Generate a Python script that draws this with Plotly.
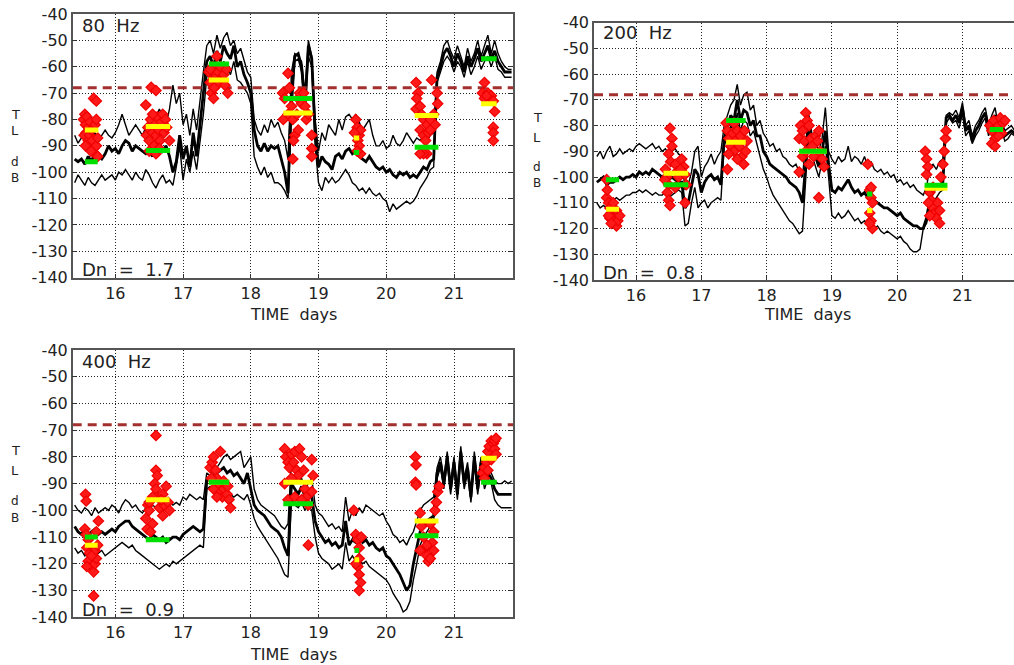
import plotly.graph_objects as go

# ---------------- data ----------------
TIME = [round(15.40 + 0.05 * i, 2) for i in range(130)]  # 15.40 .. 21.85 days

# 80 Hz : upper / median / lower TL curves (dB)
up80 = [-86, -89, -87, -84, -86, -87, -85, -88, -86, -84,
        -86, -87, -85, -82, -78, -82, -86, -84, -82, -84,
        -86, -83, -80, -82, -79, -76, -79, -82, -76, -67,
        -74, -70, -82, -78, -86, -76, -84, -72, -62, -52,
        -50, -55, -48, -53, -49, -47, -52, -50, -55, -53,
        -58, -62, -64, -80, -84, -86, -82, -85, -80, -83,
        -81, -85, -88, -95, -62, -55, -56, -58, -70, -50,
        -56, -80, -92, -85, -88, -82, -84, -86, -80, -84,
        -79, -78, -80, -78, -81, -84, -82, -80, -86, -90,
        -90, -88, -91, -90, -86, -89, -90, -88, -85, -87,
        -89, -87, -88, -86, -88, -86, -85, -62, -58, -52,
        -50, -54, -57, -52, -56, -60, -53, -58, -55, -50,
        -56, -52, -48, -55, -50, -55, -58, -60, -61, -61]
mid80 = [-95, -96, -95, -97, -94, -96, -92, -94, -95, -93,
         -90, -92, -91, -93, -90, -88, -89, -92, -90, -91,
         -92, -93, -92, -94, -89, -90, -92, -90, -94, -100,
         -96, -86, -95, -90, -98, -85, -94, -82, -70, -58,
         -56, -60, -54, -58, -52, -55, -57, -52, -60, -58,
         -63, -66, -70, -84, -90, -92, -89, -92, -90, -91,
         -90, -95, -100, -108, -70, -56, -55, -60, -75, -52,
         -57, -85, -98, -94, -96, -97, -99, -94, -93, -95,
         -92, -91, -93, -92, -94, -95, -96, -94, -96, -98,
         -99, -98, -100, -99, -101, -102, -100, -101, -100, -102,
         -101, -102, -100, -98, -99, -96, -95, -64, -60, -55,
         -53, -56, -60, -55, -58, -62, -56, -60, -57, -53,
         -58, -55, -52, -57, -54, -58, -60, -62, -62, -62]
lo80 = [-104, -101, -103, -105, -102, -104, -105, -103, -101, -103,
        -102, -101, -103, -100, -101, -99, -101, -103, -100, -102,
        -103, -99, -101, -104, -106, -103, -101, -104, -103, -105,
        -98, -90, -103, -95, -100, -92, -99, -88, -78, -64,
        -60, -66, -58, -62, -58, -60, -63, -58, -65, -66,
        -68, -70, -74, -94, -98, -101, -98, -102, -100, -104,
        -104, -105, -107, -110, -80, -58, -57, -62, -78, -56,
        -60, -90, -104, -107, -102, -104, -102, -104, -103, -101,
        -99, -101, -104, -105, -107, -106, -108, -106, -108, -109,
        -108, -110, -111, -115, -112, -114, -113, -112, -111, -112,
        -111, -109, -106, -104, -102, -99, -98, -66, -62, -58,
        -56, -58, -62, -58, -60, -64, -58, -63, -60, -56,
        -61, -58, -56, -60, -56, -61, -62, -64, -64, -64]

# 200 Hz
up200 = [-92, -90, -93, -90, -88, -92, -91, -89, -91, -90,
         -89, -90, -88, -87, -88, -89, -88, -87, -89, -88,
         -90, -89, -91, -90, -89, -91, -92, -105, -103, -98,
         -90, -88, -100, -96, -94, -91, -95, -92, -90, -80,
         -76, -72, -70, -64, -72, -68, -67, -74, -72, -80,
         -78, -83, -85, -88, -87, -90, -89, -92, -93, -95,
         -96, -95, -98, -100, -86, -76, -84, -86, -90, -85,
         -73, -90, -93, -95, -92, -94, -93, -88, -94, -92,
         -93, -95, -92, -96, -94, -97, -98, -97, -99, -98,
         -100, -99, -102, -101, -103, -102, -104, -103, -105, -106,
         -107, -104, -96, -95, -97, -94, -93, -76, -75, -76,
         -74, -77, -71, -80, -78, -84, -80, -78, -75, -73,
         -80, -76, -73, -80, -78, -82, -81, -80, -82, -82]
mid200 = [-102, -101, -100, -103, -102, -102, -101, -100, -101, -100,
          -100, -99, -100, -98, -99, -98, -99, -97, -98, -99,
          -100, -99, -101, -100, -101, -102, -102, -112, -110, -103,
          -97, -99, -106, -102, -100, -99, -101, -100, -103, -85,
          -80, -76, -78, -70, -78, -74, -75, -80, -78, -84,
          -84, -90, -92, -95, -96, -97, -98, -99, -100, -102,
          -103, -104, -106, -110, -95, -78, -88, -92, -96, -90,
          -82, -95, -105, -106, -104, -105, -103, -101, -104, -106,
          -105, -107, -106, -108, -107, -109, -110, -111, -112, -112,
          -113, -114, -115, -114, -116, -117, -118, -119, -119, -120,
          -120, -116, -109, -106, -104, -103, -102, -77, -76, -78,
          -76, -79, -73, -82, -80, -86, -82, -80, -77, -75,
          -82, -78, -76, -82, -80, -84, -83, -82, -83, -84]
lo200 = [-110, -112, -111, -112, -110, -109, -108, -109, -108, -107,
         -107, -106, -106, -105, -106, -105, -106, -107, -106, -107,
         -107, -106, -108, -107, -106, -105, -106, -119, -118, -110,
         -104, -112, -110, -109, -112, -110, -109, -108, -109, -88,
         -84, -80, -82, -75, -82, -78, -79, -84, -82, -87,
         -92, -97, -100, -104, -107, -109, -111, -113, -115, -117,
         -118, -120, -122, -121, -100, -80, -92, -96, -100, -94,
         -88, -100, -115, -116, -114, -116, -115, -113, -115, -117,
         -116, -118, -117, -119, -118, -120, -119, -121, -122, -121,
         -122, -123, -124, -123, -125, -126, -128, -129, -129, -128,
         -120, -118, -113, -110, -108, -106, -105, -79, -77, -79,
         -78, -81, -75, -84, -82, -87, -84, -82, -79, -77,
         -84, -80, -78, -84, -82, -86, -85, -83, -84, -85]

# 400 Hz
up400 = [-98, -100, -101, -99, -100, -102, -99, -101, -100, -99,
         -100, -98, -99, -101, -98, -96, -97, -99, -98, -100,
         -101, -99, -100, -98, -99, -97, -98, -99, -97, -98,
         -97, -98, -95, -96, -94, -95, -96, -95, -96, -86,
         -87, -85, -84, -82, -80, -79, -81, -80, -79, -78,
         -84, -82, -80, -92, -96, -98, -99, -100, -101, -102,
         -104, -106, -107, -105, -81, -86, -90, -88, -92, -90,
         -88, -98, -101, -102, -104, -106, -105, -107, -106, -108,
         -95, -104, -100, -102, -99, -101, -98, -99, -100, -101,
         -102, -101, -104, -106, -109, -110, -112, -111, -113, -110,
         -108, -104, -100, -98, -97, -96, -95, -84, -80, -88,
         -78, -90, -80, -92, -76, -88, -82, -94, -78, -90,
         -80, -88, -84, -86, -89, -90, -90, -89, -90, -89]
mid400 = [-106, -108, -109, -107, -109, -108, -107, -109, -108, -109,
          -108, -107, -108, -106, -105, -104, -104, -106, -107, -108,
          -109, -110, -111, -109, -110, -111, -110, -112, -111, -110,
          -110, -111, -109, -108, -107, -106, -107, -108, -107, -89,
          -88, -87, -86, -85, -84, -86, -85, -87, -86, -88,
          -90, -86, -92, -98, -100, -101, -102, -104, -106, -107,
          -108, -110, -114, -117, -90, -92, -94, -91, -95, -93,
          -95, -104, -108, -110, -112, -111, -113, -112, -114, -113,
          -104, -113, -111, -112, -110, -112, -111, -113, -112, -114,
          -115, -114, -117, -118, -120, -122, -124, -127, -130, -128,
          -120, -114, -108, -106, -104, -103, -102, -86, -82, -90,
          -80, -92, -82, -94, -78, -90, -84, -95, -80, -92,
          -82, -90, -86, -88, -92, -94, -94, -94, -94, -94]
lo400 = [-114, -116, -115, -117, -115, -116, -117, -116, -115, -117,
         -116, -115, -114, -113, -112, -113, -114, -113, -115, -116,
         -117, -118, -119, -120, -121, -122, -121, -120, -121, -119,
         -120, -119, -118, -117, -116, -115, -114, -113, -114, -92,
         -91, -92, -93, -92, -94, -93, -94, -95, -94, -95,
         -96, -94, -98, -103, -106, -108, -110, -112, -114, -116,
         -118, -121, -124, -125, -96, -98, -99, -97, -100, -98,
         -100, -110, -116, -118, -119, -120, -122, -121, -120, -122,
         -112, -119, -117, -119, -118, -120, -119, -121, -122, -123,
         -124, -125, -126, -128, -131, -133, -135, -138, -137, -134,
         -126, -120, -113, -110, -108, -106, -104, -88, -84, -92,
         -82, -94, -84, -96, -80, -92, -86, -97, -82, -94,
         -84, -92, -88, -90, -96, -98, -99, -99, -99, -99]

# measured TL points (red diamonds)
pts80_x = [15.53, 15.55, 15.56, 15.57, 15.54, 15.58, 15.60, 15.60, 15.62, 15.63, 15.65, 15.66, 15.68, 15.70, 15.72, 15.70, 15.72, 15.74, 15.74, 15.68, 15.72, 15.56, 15.64,
           16.45, 16.53, 16.60, 16.46, 16.48, 16.50, 16.52, 16.55, 16.57, 16.58, 16.60, 16.62, 16.64, 16.66, 16.68, 16.70, 16.72, 16.74, 16.76, 16.80, 16.50, 16.60, 16.65, 16.55,
           17.50, 17.38, 17.40, 17.42, 17.45, 17.44, 17.48, 17.50, 17.52, 17.55, 17.58, 17.60, 17.62, 17.64, 17.66, 17.40, 17.46,
           18.55, 18.47, 18.50, 18.48, 18.55, 18.60, 18.62, 18.65, 18.63, 18.62, 18.70, 18.72, 18.75, 18.78, 18.80, 18.82, 18.70, 18.68, 18.90, 18.90, 18.90, 18.85, 18.57,
           19.55, 19.57, 19.60, 19.58, 19.62, 19.60, 19.62, 19.53, 19.57,
           20.44, 20.47, 20.45, 20.44, 20.50, 20.52, 20.55, 20.50, 20.55, 20.60, 20.62, 20.58, 20.60, 20.55, 20.67, 20.75, 20.76, 20.70, 20.72, 20.65, 20.50, 20.65,
           21.45, 21.42, 21.45, 21.50, 21.55, 21.58, 21.60, 21.58, 21.58, 21.58, 21.48]
pts80_y = [-80, -78, -82, -85, -86, -79, -83, -88, -86, -81, -84, -88, -91, -93, -90, -82, -80, -87, -94, -72, -73, -90, -92,
           -74.5, -67.8, -69, -86, -83, -88, -80, -85, -90, -82, -86, -79, -84, -88, -81, -78, -85, -80, -83, -88, -92, -93, -91, -78,
           -56, -62, -66, -70, -72, -60, -64, -67, -62, -60, -65, -63, -67, -61, -70, -61, -68,
           -62.5, -70, -72, -80, -78, -75, -80, -86, -88, -95, -72, -70, -74, -70, -75, -80, -84, -78, -86, -91, -94, -78, -68,
           -80, -83, -86, -88, -84, -90, -93, -85, -92,
           -66, -70, -72, -76, -75, -78, -80, -84, -86, -82, -85, -88, -93, -93, -65, -70, -74, -78, -82, -84, -93, -80,
           -66, -70, -72, -70, -71, -73, -77, -83, -85, -88, -71]

pts200_x = [15.55, 15.55, 15.58, 15.60, 15.62, 15.65, 15.68, 15.70, 15.72, 15.60, 15.70, 15.65, 15.58, 15.62, 15.75, 15.56,
            16.52, 16.55, 16.55, 16.50, 16.53, 16.45, 16.47, 16.50, 16.48, 16.50, 16.52, 16.60, 16.62, 16.65, 16.70, 16.73, 16.75, 16.77, 16.75, 16.60, 16.44, 16.68,
            17.38, 17.40, 17.42, 17.45, 17.48, 17.50, 17.52, 17.55, 17.58, 17.60, 17.62, 17.65, 17.68, 17.70, 17.40, 17.42, 17.55, 17.50, 17.66,
            18.50, 18.50, 18.52, 18.55, 18.58, 18.60, 18.62, 18.65, 18.68, 18.70, 18.72, 18.75, 18.78, 18.80, 18.82, 18.85, 18.88, 18.80, 18.55, 18.65, 18.60,
            19.55, 19.58, 19.60, 19.62, 19.58, 19.60, 19.62, 19.58, 19.60,
            20.43, 20.45, 20.47, 20.45, 20.50, 20.52, 20.55, 20.58, 20.60, 20.62, 20.65, 20.67, 20.70, 20.72, 20.74, 20.75, 20.50, 20.55, 20.65, 20.48,
            21.42, 21.45, 21.48, 21.50, 21.55, 21.58, 21.60, 21.62, 21.45, 21.50, 21.55, 21.65]
pts200_y = [-101, -108, -110, -112, -114, -116, -118, -119, -117, -116, -113, -110, -115, -118, -115, -105,
            -81, -85, -88, -91, -94, -97, -100, -103, -106, -109, -111, -95, -98, -100, -93, -96, -99, -103, -110, -104, -101, -97,
            -79, -82, -85, -88, -83, -90, -86, -82, -88, -84, -92, -95, -90, -86, -97, -91, -93, -79, -82,
            -98, -85, -80, -82, -86, -75, -78, -80, -85, -88, -92, -84, -86, -82, -90, -93, -96, -108, -92, -95, -90,
            -95, -105, -108, -110, -114, -117, -120, -118, -104,
            -90, -93, -96, -99, -106, -109, -112, -114, -116, -110, -113, -100, -95, -90, -85, -82, -115, -104, -118, -110,
            -80, -82, -78, -85, -80, -77, -83, -79, -87, -88, -84, -78]

pts400_x = [15.56, 15.57, 15.55, 15.57, 15.60, 15.58, 15.62, 15.60, 15.65, 15.68, 15.70, 15.72, 15.70, 15.74, 15.72, 15.75, 15.68, 15.58, 15.65,
            16.60, 16.60, 16.62, 16.58, 16.60, 16.62, 16.55, 16.70, 16.75, 16.48, 16.50, 16.45, 16.47, 16.52, 16.55, 16.65, 16.70, 16.72, 16.78, 16.80, 16.50, 16.68,
            17.40, 17.43, 17.45, 17.48, 17.50, 17.52, 17.55, 17.55, 17.58, 17.60, 17.62, 17.65, 17.68, 17.70, 17.50, 17.45, 17.42, 17.60, 17.66,
            18.50, 18.52, 18.55, 18.57, 18.60, 18.63, 18.65, 18.68, 18.70, 18.72, 18.75, 18.78, 18.80, 18.82, 18.85, 18.90, 18.92, 18.90, 18.85, 18.50, 18.55, 18.65, 18.75, 18.60,
            19.52, 19.55, 19.58, 19.60, 19.60, 19.58, 19.60, 19.62, 19.60, 19.55, 19.63,
            20.43, 20.44, 20.43, 20.44, 20.50, 20.52, 20.55, 20.58, 20.60, 20.62, 20.65, 20.68, 20.70, 20.72, 20.74, 20.76, 20.78, 20.60, 20.50, 20.65, 20.70,
            21.42, 21.45, 21.48, 21.50, 21.52, 21.55, 21.58, 21.60, 21.62, 21.55, 21.50, 21.45, 21.60, 21.62]
pts400_y = [-94, -96.5, -107, -109, -111, -114, -116, -119, -121, -123, -120, -118, -115, -113, -108, -104, -132, -121, -117,
            -72, -85, -87, -90, -92, -95, -95, -94, -91, -98, -100, -103, -107, -108, -105, -99, -102, -98, -97, -100, -97, -96,
            -84, -82, -80, -85, -88, -91, -78, -93, -95, -92, -90, -94, -96, -99, -95, -92, -88, -89, -91,
            -77, -80, -82, -84, -79, -82, -78, -85, -87, -77, -80, -85, -92, -95, -98, -81, -87, -93, -113, -90, -96, -95, -96, -88,
            -100, -109, -111, -114, -118, -121, -124, -127, -130, -120, -110,
            -80, -83, -89.5, -90.5, -101, -106, -110, -114, -117, -119, -118, -112, -108, -100, -97, -93, -91, -113, -115, -105, -115,
            -86, -84, -82, -78, -76, -74, -75, -77, -79, -81, -85, -88, -74, -73]

# yellow / green level bars: [start day, end day, dB]
yellow80 = [[15.55, 15.75, -84], [16.45, 16.81, -82.7], [17.38, 17.68, -65], [18.48, 18.91, -77.5],
            [19.52, 19.60, -87], [20.42, 20.77, -78.5], [21.40, 21.63, -74]]
green80 = [[15.55, 15.74, -96], [16.45, 16.81, -91.8], [17.38, 17.68, -59], [18.48, 18.91, -72],
           [19.52, 19.60, -92.5], [20.42, 20.77, -90.5], [21.40, 21.63, -57]]
yellow200 = [[15.54, 15.74, -112.5], [16.42, 16.80, -98.5], [17.38, 17.68, -86.5], [18.50, 18.92, -90],
             [19.54, 19.62, -113], [20.42, 20.77, -104.3], [21.42, 21.62, -81.5]]
green200 = [[15.54, 15.74, -101], [16.42, 16.80, -103], [17.38, 17.68, -78], [18.50, 18.92, -90],
            [19.54, 19.62, -106.6], [20.42, 20.77, -103.2], [21.42, 21.62, -81.5]]
yellow400 = [[15.55, 15.74, -113], [16.45, 16.80, -96], [17.38, 17.68, -89.5], [18.48, 18.92, -89.5],
             [19.53, 19.60, -118.5], [20.42, 20.77, -104], [21.40, 21.63, -80.5]]
green400 = [[15.55, 15.74, -110], [16.45, 16.80, -111], [17.38, 17.68, -89.5], [18.48, 18.92, -97.5],
            [19.53, 19.60, -115], [20.42, 20.77, -109.5], [21.40, 21.63, -89.5]]

THRESHOLD = -68
YTICK_VALS = [-40, -50, -60, -70, -80, -90, -100, -110, -120, -130, -140]
YTICK_TEXT = ["-40", "-50", "-60", "-70", "-80", "-90", "-100", "-110", "-120", "-130", "-140"]
XTICK_VALS = [16, 17, 18, 19, 20, 21]
XTICK_TEXT = ["16", "17", "18", "19", "20", "21"]
FREQ_LABELS = ["80\u00a0\u00a0Hz", "200\u00a0\u00a0Hz", "400\u00a0\u00a0Hz"]
DN_LABELS = ["Dn\u00a0\u00a0=\u00a0\u00a01.7", "Dn\u00a0\u00a0=\u00a0\u00a00.8", "Dn\u00a0\u00a0=\u00a0\u00a00.9"]

# ---------------- figure ----------------
W, H = 1014, 665
FONT = "DejaVu Sans"


def pxx(p):
    return p / W


def pxy(p):
    return 1 - p / H


panels = [
    dict(xd=(72.7, 513), yd=(14, 277.7), xr=[15.371, 21.871], right=True,
         up=up80, mid=mid80, lo=lo80, px=pts80_x, py=pts80_y, yel=yellow80, grn=green80,
         freq=(80, 25), dn=(80, 269), title=(293, 315), tl=(15, [114, 130, 162, 178])),
    dict(xd=(594, 1014), yd=(22.7, 280), xr=[15.356, 21.79], right=False,
         up=up200, mid=mid200, lo=lo200, px=pts200_x, py=pts200_y, yel=yellow200, grn=green200,
         freq=(601, 33), dn=(601, 272), title=(807, 315), tl=(537, [117, 137, 167, 183])),
    dict(xd=(72.7, 513), yd=(350, 617.3), xr=[15.371, 21.871], right=True,
         up=up400, mid=mid400, lo=lo400, px=pts400_x, py=pts400_y, yel=yellow400, grn=green400,
         freq=(80, 362), dn=(80, 609), title=(293, 654), tl=(15, [451, 470, 501, 518])),
]

fig = go.Figure()
layout = dict(width=W, height=H, margin=dict(l=0, r=0, t=0, b=0, pad=0),
              paper_bgcolor="white", plot_bgcolor="white", showlegend=False,
              template="none", annotations=[])


def bar_xy(bars):
    xs, ys = [], []
    for x0, x1, v in bars:
        xs += [x0, x1, None]
        ys += [v, v, None]
    return xs, ys


for k, p in enumerate(panels):
    n = "" if k == 0 else str(k + 1)
    xa, ya = "x" + n, "y" + n
    # curves
    for vals, w in ((p["up"], 1.4), (p["lo"], 1.4), (p["mid"], 2.8)):
        fig.add_trace(go.Scatter(x=TIME, y=vals, mode="lines", xaxis=xa, yaxis=ya,
                                 line=dict(color="black", width=w), hoverinfo="skip"))
    # threshold
    fig.add_trace(go.Scatter(x=[p["xr"][0], p["xr"][1]], y=[THRESHOLD, THRESHOLD], mode="lines",
                             xaxis=xa, yaxis=ya,
                             line=dict(color="#a3302e", width=3, dash="9px,6px")))
    # measured points
    fig.add_trace(go.Scatter(x=p["px"], y=p["py"], mode="markers", xaxis=xa, yaxis=ya,
                             marker=dict(symbol="diamond", size=8, color="#ff1a1a",
                                         line=dict(width=1.2, color="#f00000"))))
    # bars
    bx, by = bar_xy(p["yel"])
    fig.add_trace(go.Scatter(x=bx, y=by, mode="lines", xaxis=xa, yaxis=ya,
                             line=dict(color="#ffff00", width=5)))
    bx, by = bar_xy(p["grn"])
    fig.add_trace(go.Scatter(x=bx, y=by, mode="lines", xaxis=xa, yaxis=ya,
                             line=dict(color="#00e000", width=5)))

    layout["xaxis" + n] = dict(
        domain=[pxx(p["xd"][0]), min(1.0, pxx(p["xd"][1]))], range=p["xr"], anchor=ya,
        tickvals=XTICK_VALS, ticktext=XTICK_TEXT, showgrid=True, gridcolor="#222",
        griddash="1px,2px", gridwidth=1, zeroline=False, showline=True, linecolor="#555",
        linewidth=1.5, mirror=True, ticks="inside", ticklen=4, tickcolor="#333",
        tickfont=dict(family=FONT, size=16, color="#222"), automargin=False)
    layout["yaxis" + n] = dict(
        domain=[pxy(p["yd"][1]), pxy(p["yd"][0])], range=[-140, -40], anchor=xa,
        tickvals=YTICK_VALS, ticktext=YTICK_TEXT, showgrid=True, gridcolor="#222",
        griddash="1px,2px", gridwidth=1, zeroline=False, showline=True, linecolor="#555",
        linewidth=1.5, mirror=("ticks" if p["right"] else False), ticks="inside", ticklen=4,
        tickcolor="#333", tickfont=dict(family=FONT, size=16, color="#222"), automargin=False)

    ann = layout["annotations"]
    ann.append(dict(text=FREQ_LABELS[k], x=pxx(p["freq"][0]), y=pxy(p["freq"][1]), xref="paper",
                    yref="paper", xanchor="left", yanchor="middle", showarrow=False,
                    font=dict(family=FONT, size=18, color="#222")))
    ann.append(dict(text=DN_LABELS[k], x=pxx(p["dn"][0]), y=pxy(p["dn"][1]), xref="paper",
                    yref="paper", xanchor="left", yanchor="middle", showarrow=False,
                    font=dict(family=FONT, size=18, color="#222")))
    ann.append(dict(text="TIME\u00a0\u00a0days", x=pxx(p["title"][0]), y=pxy(p["title"][1]),
                    xref="paper", yref="paper", xanchor="center", yanchor="middle",
                    showarrow=False, font=dict(family=FONT, size=16, color="#222")))
    for ch, yy in zip(["T", "L", "d", "B"], p["tl"][1]):
        ann.append(dict(text=ch, x=pxx(p["tl"][0]), y=pxy(yy), xref="paper", yref="paper",
                        xanchor="center", yanchor="middle", showarrow=False,
                        font=dict(family=FONT, size=13 if ch in "TL" else 12, color="#222")))

fig.update_layout(**layout)
fig.write_html("out.html")
